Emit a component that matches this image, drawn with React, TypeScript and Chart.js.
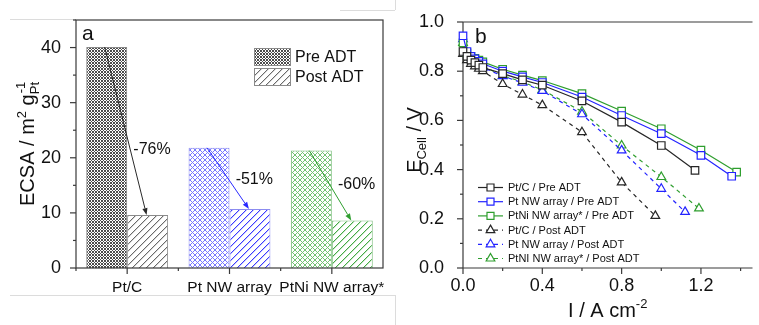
import React, { useEffect, useRef } from 'react';
import { Chart, registerables } from 'chart.js';
Chart.register(...registerables);

const FONT = "'Liberation Sans', Arial, Helvetica, sans-serif";

// ---------- Panel a data ----------
const categories = ['Pt/C', 'Pt NW array', 'PtNi NW array*'];
const preADT = [40.1, 21.8, 21.3];
const postADT = [9.6, 10.7, 8.6];
const lossLabels = ['-76%', '-51%', '-60%'];
const lossLabelY = [21.4, 16.0, 15.1];
const ecsaTicks = [0, 10, 20, 30, 40];
const barColors = ['#2a2a2a', '#2b2bff', '#2f9e2f'];
const barBorders = ['#8a8a8a', '#8c8cf0', '#7fbf7f'];

// ---------- Panel b data ----------
const ptcPreX = [0, 0.02, 0.04, 0.06, 0.08, 0.1, 0.2, 0.3, 0.4, 0.6, 0.8, 1.0, 1.17];
const ptcPreY = [0.88, 0.86, 0.845, 0.835, 0.825, 0.815, 0.79, 0.765, 0.743, 0.679, 0.593, 0.498, 0.397];
const ptnwPreX = [0, 0.02, 0.04, 0.06, 0.08, 0.1, 0.2, 0.3, 0.4, 0.6, 0.8, 1.0, 1.2, 1.355];
const ptnwPreY = [0.944, 0.88, 0.86, 0.85, 0.84, 0.83, 0.8, 0.777, 0.754, 0.695, 0.62, 0.546, 0.458, 0.373];
const ptniPreX = [0, 0.02, 0.04, 0.06, 0.08, 0.1, 0.2, 0.3, 0.4, 0.6, 0.8, 1.0, 1.2, 1.38];
const ptniPreY = [0.915, 0.875, 0.86, 0.852, 0.845, 0.838, 0.808, 0.784, 0.762, 0.709, 0.638, 0.566, 0.479, 0.39];
const ptcPostX = [0, 0.02, 0.04, 0.06, 0.08, 0.1, 0.2, 0.3, 0.4, 0.6, 0.8, 0.97];
const ptcPostY = [0.87, 0.845, 0.83, 0.82, 0.81, 0.8, 0.748, 0.705, 0.662, 0.552, 0.348, 0.212];
const ptnwPostX = [0, 0.02, 0.04, 0.06, 0.08, 0.1, 0.2, 0.3, 0.4, 0.6, 0.8, 1.0, 1.12];
const ptnwPostY = [0.93, 0.87, 0.85, 0.835, 0.825, 0.815, 0.78, 0.753, 0.72, 0.625, 0.478, 0.322, 0.228];
const ptniPostX = [0, 0.02, 0.04, 0.06, 0.08, 0.1, 0.2, 0.3, 0.4, 0.6, 0.8, 1.0, 1.19];
const ptniPostY = [0.915, 0.875, 0.853, 0.84, 0.83, 0.82, 0.782, 0.756, 0.724, 0.636, 0.498, 0.37, 0.242];
const seriesNames = [
  'Pt/C / Pre ADT',
  'Pt NW array / Pre ADT',
  'PtNi NW array* / Pre ADT',
  'Pt/C / Post ADT',
  'Pt NW array / Post ADT',
  'PtNI NW array* / Post ADT',
];
const seriesX = [ptcPreX, ptnwPreX, ptniPreX, ptcPostX, ptnwPostX, ptniPostX];
const seriesY = [ptcPreY, ptnwPreY, ptniPreY, ptcPostY, ptnwPostY, ptniPostY];
const seriesColors = ['#262626', '#2323ff', '#2e9e2e', '#262626', '#2323ff', '#2e9e2e'];
const seriesMarkers = ['rect', 'rect', 'rect', 'triangle', 'triangle', 'triangle'];
const seriesDashed = [false, false, false, true, true, true];
const currentTicks = [0, 0.4, 0.8, 1.2];
const voltageTicks = [0, 0.2, 0.4, 0.6, 0.8, 1.0];

function crossPattern(ctx: CanvasRenderingContext2D, size: number, color: string) {
  const c = document.createElement('canvas');
  c.width = size; c.height = size;
  const g = c.getContext('2d')!;
  g.fillStyle = '#ffffff';
  g.fillRect(0, 0, size, size);
  g.fillStyle = color;
  for (let y = 0; y < size; y++)
    for (let x = 0; x < size; x++)
      if (x === y || x === size - 1 - y) g.fillRect(x, y, 1, 1);
  return ctx.createPattern(c, 'repeat')!;
}

function hatchPattern(ctx: CanvasRenderingContext2D, size: number, color: string, light: string) {
  const c = document.createElement('canvas');
  c.width = size; c.height = size;
  const g = c.getContext('2d')!;
  g.fillStyle = '#ffffff';
  g.fillRect(0, 0, size, size);
  for (let y = 0; y < size; y++)
    for (let x = 0; x < size; x++) {
      const k = (x + y) % size;
      if (k === 0) { g.fillStyle = color; g.fillRect(x, y, 1, 1); }
      else if (k === 1) { g.fillStyle = light; g.fillRect(x, y, 1, 1); }
    }
  return ctx.createPattern(c, 'repeat')!;
}

function hline(ctx: CanvasRenderingContext2D, x1: number, x2: number, y: number) {
  ctx.beginPath(); ctx.moveTo(x1, y); ctx.lineTo(x2, y); ctx.stroke();
}
function vline(ctx: CanvasRenderingContext2D, x: number, y1: number, y2: number) {
  ctx.beginPath(); ctx.moveTo(x, y1); ctx.lineTo(x, y2); ctx.stroke();
}

function drawMarker(ctx: CanvasRenderingContext2D, kind: string, x: number, y: number, color: string) {
  ctx.save();
  ctx.fillStyle = '#fff';
  ctx.strokeStyle = color;
  ctx.lineWidth = 1.2;
  ctx.setLineDash([]);
  ctx.beginPath();
  if (kind === 'rect') {
    ctx.rect(x - 3.5, y - 3.5, 7, 7);
  } else {
    const r = 5;
    ctx.moveTo(x, y - r);
    ctx.lineTo(x + 0.866 * r, y + 0.5 * r);
    ctx.lineTo(x - 0.866 * r, y + 0.5 * r);
    ctx.closePath();
  }
  ctx.fill();
  ctx.stroke();
  ctx.restore();
}

export default function App() {
  const refA = useRef<HTMLCanvasElement>(null);
  const refB = useRef<HTMLCanvasElement>(null);

  useEffect(() => {
    const cA = refA.current!;
    const cB = refB.current!;
    const ctxA = cA.getContext('2d')!;

    const prePatterns = [
      crossPattern(ctxA, 3, '#4c4c4c'),
      crossPattern(ctxA, 5, '#7878ff'),
      crossPattern(ctxA, 5, '#74c274'),
    ];
    const postPatterns = [
      hatchPattern(ctxA, 7, '#6a6a6a', '#d6d6d6'),
      hatchPattern(ctxA, 7, '#3a3aff', '#c8c8ff'),
      hatchPattern(ctxA, 7, '#44aa44', '#c8e6c8'),
    ];

    const panelA = {
      id: 'panelA',
      afterDatasetsDraw(chart: any) {
        const { ctx, chartArea: ca, scales } = chart;
        const x = scales.x;
        const y = scales.y;
        ctx.save();
        // faint figure borders
        ctx.strokeStyle = '#dcdcdc';
        ctx.lineWidth = 1;
        hline(ctx, 10, 76, 19.5);
        hline(ctx, 10, 395, 295.5);
        vline(ctx, 395.5, 295, 325);
        hline(ctx, 340, 395, 10.5);
        vline(ctx, 395.5, 0, 10);

        // frame
        ctx.strokeStyle = '#3a3a3a';
        ctx.lineWidth = 1.2;
        ctx.strokeRect(ca.left, ca.top, ca.right - ca.left, ca.bottom - ca.top);
        // y ticks
        for (let v = 0; v <= 45; v += 5) {
          const py = y.getPixelForValue(v);
          const len = v % 10 === 0 ? 6 : 3;
          hline(ctx, ca.left - len, ca.left, py);
        }
        // x ticks
        const cw = x.getPixelForValue(1) - x.getPixelForValue(0);
        for (let i = 0; i < categories.length; i++) {
          const px = x.getPixelForValue(i);
          vline(ctx, px, ca.bottom, ca.bottom + 6);
          vline(ctx, px - cw / 2, ca.bottom, ca.bottom + 3);
        }
        // arrows and labels
        ctx.font = `16px ${FONT}`;
        ctx.textBaseline = 'middle';
        ctx.textAlign = 'left';
        for (let i = 0; i < categories.length; i++) {
          const cx = x.getPixelForValue(i);
          const x1 = cx - 0.22 * cw;
          const y1 = y.getPixelForValue(preADT[i]);
          const x2 = cx + 0.19 * cw;
          const y2 = y.getPixelForValue(postADT[i]);
          const col = barColors[i];
          ctx.strokeStyle = col;
          ctx.fillStyle = col;
          ctx.lineWidth = 1;
          const ang = Math.atan2(y2 - y1, x2 - x1);
          const hl = 7;
          const hw = 2.6;
          ctx.beginPath();
          ctx.moveTo(x1, y1);
          ctx.lineTo(x2 - Math.cos(ang) * hl, y2 - Math.sin(ang) * hl);
          ctx.stroke();
          ctx.beginPath();
          ctx.moveTo(x2, y2);
          ctx.lineTo(x2 - Math.cos(ang) * hl - Math.sin(ang) * hw, y2 - Math.sin(ang) * hl + Math.cos(ang) * hw);
          ctx.lineTo(x2 - Math.cos(ang) * hl + Math.sin(ang) * hw, y2 - Math.sin(ang) * hl - Math.cos(ang) * hw);
          ctx.closePath();
          ctx.fill();
          ctx.fillStyle = '#111';
          ctx.fillText(lossLabels[i], cx + 0.06 * cw, y.getPixelForValue(lossLabelY[i]));
        }
        // legend
        const lx = 254, lw = 36, lh = 17;
        const rows = [
          { y: 48, pat: prePatterns[0], text: 'Pre ADT' },
          { y: 68, pat: postPatterns[0], text: 'Post ADT' },
        ];
        for (const r of rows) {
          ctx.fillStyle = r.pat;
          ctx.fillRect(lx, r.y, lw, lh);
          ctx.strokeStyle = '#8a8a8a';
          ctx.lineWidth = 1;
          ctx.strokeRect(lx + 0.5, r.y + 0.5, lw, lh);
          ctx.fillStyle = '#111';
          ctx.font = `16px ${FONT}`;
          ctx.textBaseline = 'middle';
          ctx.fillText(r.text, 295, r.y + lh / 2 + 1);
        }
        // panel letter
        ctx.font = `21px ${FONT}`;
        ctx.textBaseline = 'alphabetic';
        ctx.fillStyle = '#111';
        ctx.fillText('a', 82, 40);
        // y title
        ctx.save();
        ctx.translate(34, (ca.top + ca.bottom) / 2);
        ctx.rotate(-Math.PI / 2);
        const big = `20px ${FONT}`;
        const small = `13px ${FONT}`;
        ctx.font = big;
        const w1 = ctx.measureText('ECSA / m').width;
        const w3 = ctx.measureText(' g').width;
        ctx.font = small;
        const w2 = ctx.measureText('2').width;
        const w4 = Math.max(ctx.measureText('-1').width, ctx.measureText('Pt').width);
        const total = w1 + w2 + w3 + w4;
        let tx = -total / 2;
        ctx.textAlign = 'left';
        ctx.font = big;
        ctx.fillText('ECSA / m', tx, 0); tx += w1;
        ctx.font = small;
        ctx.fillText('2', tx, -8); tx += w2;
        ctx.font = big;
        ctx.fillText(' g', tx, 0); tx += w3;
        ctx.font = small;
        ctx.fillText('-1', tx + 1, -9);
        ctx.fillText('Pt', tx, 5);
        ctx.restore();
        ctx.restore();
      },
    };

    const chartA = new Chart(cA, {
      type: 'bar',
      data: {
        labels: categories,
        datasets: [
          {
            label: 'Pre ADT',
            data: preADT,
            backgroundColor: prePatterns as any,
            borderColor: barBorders,
            borderWidth: 1,
            categoryPercentage: 0.8,
            barPercentage: 1,
          },
          {
            label: 'Post ADT',
            data: postADT,
            backgroundColor: postPatterns as any,
            borderColor: barBorders,
            borderWidth: 1,
            categoryPercentage: 0.8,
            barPercentage: 1,
          },
        ],
      },
      options: {
        responsive: false,
        animation: false,
        devicePixelRatio: 1,
        layout: { padding: { left: 0, top: 20, right: 37, bottom: 0 } },
        plugins: { legend: { display: false }, tooltip: { enabled: false } },
        scales: {
          x: {
            grid: { display: false },
            border: { display: false },
            ticks: { font: { family: FONT, size: 15.5 }, color: '#111', padding: 2, maxRotation: 0, autoSkip: false },
            afterFit: (s: any) => { s.height = 57; },
          },
          y: {
            min: 0,
            max: 45,
            grid: { display: false },
            border: { display: false },
            ticks: { font: { family: FONT, size: 18 }, color: '#111', padding: 7 },
            afterBuildTicks: (s: any) => { s.ticks = ecsaTicks.map((v) => ({ value: v })); },
            afterFit: (s: any) => { s.width = 76; },
          },
        },
      },
      plugins: [panelA],
    });

    const panelB = {
      id: 'panelB',
      beforeDatasetsDraw(chart: any) {
        const { ctx, chartArea: ca, scales } = chart;
        const x = scales.x;
        const y = scales.y;
        ctx.save();
        ctx.strokeStyle = '#3a3a3a';
        ctx.lineWidth = 1.2;
        vline(ctx, ca.left, ca.top, ca.bottom);
        hline(ctx, ca.left, ca.right, ca.bottom);
        hline(ctx, ca.left, ca.right, ca.top);
        for (let k = 0; k <= 10; k++) {
          const py = y.getPixelForValue(k / 10);
          hline(ctx, ca.left - (k % 2 === 0 ? 6 : 3), ca.left, py);
        }
        for (let k = 0; k <= 7; k++) {
          const px = x.getPixelForValue(k * 0.2);
          if (px > ca.right) continue;
          vline(ctx, px, ca.bottom, ca.bottom + (k % 2 === 0 ? 6 : 3));
        }
        ctx.restore();
      },
      afterDatasetsDraw(chart: any) {
        const { ctx, chartArea: ca } = chart;
        ctx.save();
        // legend
        const x0 = 478 - 380;
        for (let i = 0; i < seriesNames.length; i++) {
          const ry = 187.5 + i * 14.2;
          ctx.strokeStyle = seriesColors[i];
          ctx.lineWidth = 1.2;
          ctx.setLineDash(seriesDashed[i] ? [4, 4] : []);
          hline(ctx, x0, x0 + 25, ry);
          ctx.setLineDash([]);
          drawMarker(ctx, seriesMarkers[i], x0 + 12.5, ry, seriesColors[i]);
          ctx.fillStyle = '#111';
          ctx.font = `11px ${FONT}`;
          ctx.textBaseline = 'middle';
          ctx.textAlign = 'left';
          ctx.fillText(seriesNames[i], x0 + 30, ry + 0.5);
        }
        // panel letter
        ctx.font = `21px ${FONT}`;
        ctx.textBaseline = 'alphabetic';
        ctx.fillText('b', 475 - 380, 43);
        // x title
        const big = `20px ${FONT}`;
        const small = `13px ${FONT}`;
        ctx.font = big;
        const wa = ctx.measureText('I / A cm').width;
        ctx.font = small;
        const wb = ctx.measureText('-2').width;
        let tx = (ca.left + ca.right) / 2 - (wa + wb) / 2;
        ctx.font = big;
        ctx.fillText('I / A cm', tx, 317);
        ctx.font = small;
        ctx.fillText('-2', tx + wa, 308);
        // y title
        ctx.save();
        ctx.translate(421 - 380, 140);
        ctx.rotate(-Math.PI / 2);
        ctx.font = big;
        const we = ctx.measureText('E').width;
        const wv = ctx.measureText(' / V').width;
        ctx.font = small;
        const wc = ctx.measureText('Cell').width;
        let ty = -(we + wc + wv) / 2;
        ctx.font = big;
        ctx.fillText('E', ty, 0); ty += we;
        ctx.font = small;
        ctx.fillText('Cell', ty, 5); ty += wc;
        ctx.font = big;
        ctx.fillText(' / V', ty, 0);
        ctx.restore();
        ctx.restore();
      },
    };

    const chartB = new Chart(cB, {
      type: 'line',
      data: {
        datasets: seriesNames.map((name, i) => ({
          label: name,
          data: seriesX[i].map((xv, j) => ({ x: xv, y: seriesY[i][j] })),
          borderColor: seriesColors[i],
          backgroundColor: '#ffffff',
          borderWidth: 1.2,
          borderDash: seriesDashed[i] ? [4, 4] : [],
          pointStyle: seriesMarkers[i] as any,
          pointRadius: seriesMarkers[i] === 'rect' ? 5.3 : 5,
          pointBorderWidth: 1.2,
          pointBorderColor: seriesColors[i],
          pointBackgroundColor: '#ffffff',
          tension: 0,
          clip: false as any,
        })),
      },
      options: {
        responsive: false,
        animation: false,
        devicePixelRatio: 1,
        layout: { padding: { left: 0, top: 22, right: 0, bottom: 0 } },
        plugins: { legend: { display: false }, tooltip: { enabled: false } },
        scales: {
          x: {
            type: 'linear',
            min: 0,
            max: 1.46,
            grid: { display: false },
            border: { display: false },
            ticks: {
              font: { family: FONT, size: 18 },
              color: '#111',
              padding: -1,
              maxRotation: 0,
              callback: (v: any) => Number(v).toFixed(1),
            },
            afterBuildTicks: (s: any) => { s.ticks = currentTicks.map((v) => ({ value: v })); },
            afterFit: (s: any) => { s.height = 57; },
          },
          y: {
            min: 0,
            max: 1,
            grid: { display: false },
            border: { display: false },
            ticks: {
              font: { family: FONT, size: 18 },
              color: '#111',
              padding: 11,
              callback: (v: any) => Number(v).toFixed(1),
            },
            afterBuildTicks: (s: any) => { s.ticks = voltageTicks.map((v) => ({ value: v })); },
            afterFit: (s: any) => { s.width = 83; },
          },
        },
      },
      plugins: [panelB],
    });

    return () => {
      chartA.destroy();
      chartB.destroy();
    };
  }, []);

  return (
    <div style={{ position: 'fixed', left: 0, top: 0, width: 759, height: 325, background: '#fff', overflow: 'hidden' }}>
      <canvas ref={refA} width={420} height={325} style={{ position: 'absolute', left: 0, top: 0, width: 420, height: 325 }} />
      <canvas ref={refB} width={379} height={325} style={{ position: 'absolute', left: 380, top: 0, width: 379, height: 325 }} />
    </div>
  );
}
